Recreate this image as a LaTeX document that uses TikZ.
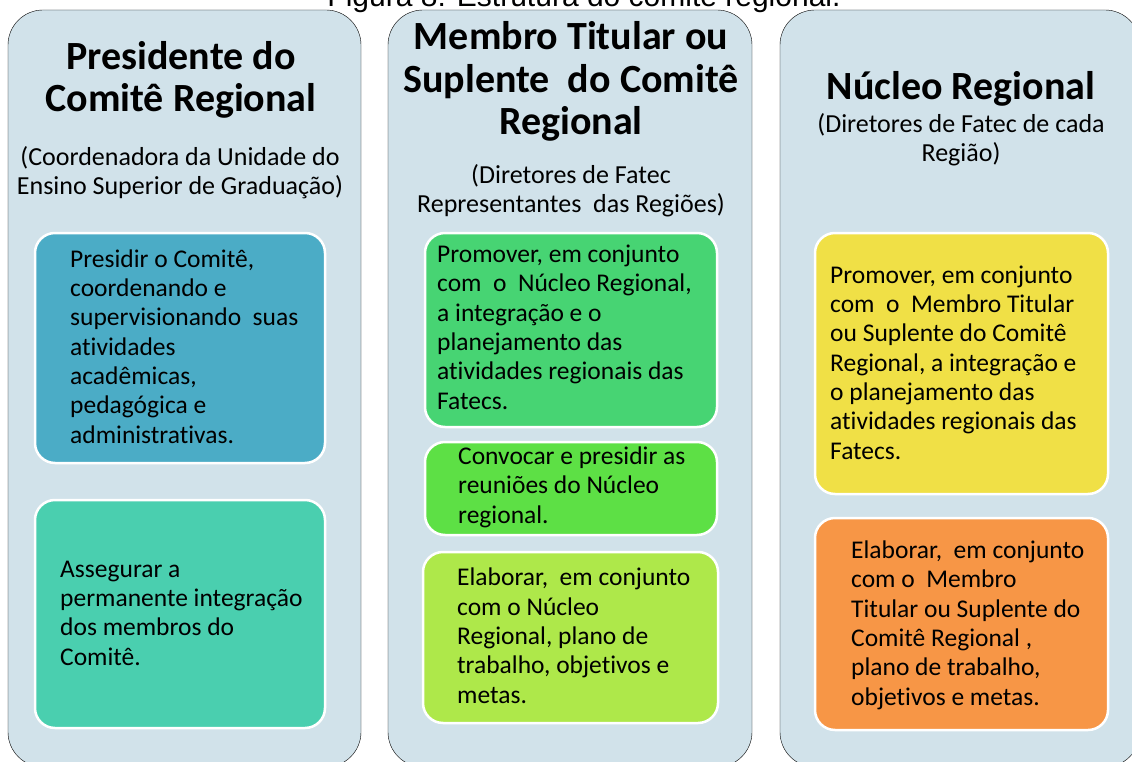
\documentclass[tikz,border=0pt]{standalone}
\usepackage{fontspec}
\setmainfont{Carlito}[Ligatures=NoCommon]
\newfontfamily\capfont{Liberation Sans}
\definecolor{colbg}{HTML}{D1E2EA}
\definecolor{presA}{HTML}{4BACC6}
\definecolor{presB}{HTML}{4ACFAF}
\definecolor{membA}{HTML}{47D473}
\definecolor{membB}{HTML}{5DE045}
\definecolor{membC}{HTML}{AEE84A}
\definecolor{nucA}{HTML}{F0E046}
\definecolor{nucB}{HTML}{F79646}
\tikzset{
  column/.style={fill=colbg, rounded corners=35pt},
  duty/.style={draw=white, line width=2.5pt, rounded corners=20pt},
  headtext/.style={font={\fontsize{40}{42.5}\selectfont\bfseries}, align=center, inner sep=0pt, anchor=base},
  subtext/.style={font={\fontsize{26}{29}\selectfont}, align=center, inner sep=0pt, anchor=base},
  dutytext/.style={font={\fontsize{25.5}{29.3}\selectfont}, align=left, inner sep=0pt, anchor=base west}
}
\begin{document}
\begin{tikzpicture}[x=1pt, y=-1pt]
    \useasboundingbox (0, 0) rectangle (1132, 762);
    \clip (0, 0) rectangle (1132, 762);
    \fill[white] (0, 0) rectangle (1132, 762);
    % caption, mostly cut off by the top edge
    \node[font={\capfont\fontsize{30}{30}\selectfont}, inner sep=0pt, anchor=base] (caption) at (584, 7) {Figura 8: Estrutura do comitê regional.};
    % the three columns
    \draw[column] (8, 10) rectangle (361, 767);
    \draw[column] (388, 10) rectangle (752, 767);
    \draw[column] (780, 10) rectangle (1140, 767);
    % presidente (text nodes sit on the base of their last line)
    \node[headtext] (presHead) at (181, 112) {Presidente do\\Comitê Regional};
    \node[subtext] (presSub) at (180, 195) {(Coordenadora da Unidade do\\Ensino Superior de Graduação)};
    \draw[duty, fill=presA] (35, 233) rectangle (325, 463);
    \draw[duty, fill=presB] (35, 500) rectangle (325, 728);
    \node[dutytext] (presDutyA) at (70, 443) {Presidir o Comitê,\\coordenando e\\supervisionando\ \ suas\\atividades\\acadêmicas,\\pedagógica e\\administrativas.};
    \node[dutytext] (presDutyB) at (60, 665) {Assegurar a\\permanente integração\\dos membros do\\Comitê.};
    % membro titular ou suplente
    \node[headtext] (membHead) at (571, 135) {Membro Titular ou\\Suplente\ \ do Comitê\\Regional};
    \node[subtext] (membSub) at (571, 213) {(Diretores de Fatec\\Representantes\ \ das Regiões)};
    \draw[duty, fill=membA] (425, 233) rectangle (717, 427);
    \draw[duty, fill=membB] (425, 442) rectangle (717, 535);
    \draw[duty, fill=membC] (423, 552) rectangle (718, 723);
    \node[dutytext] (membDutyA) at (437, 409) {Promover, em conjunto\\com\ \ o\ \ Núcleo Regional,\\a integração e o\\planejamento das\\atividades regionais das\\Fatecs.};
    \node[dutytext] (membDutyB) at (458, 523) {Convocar e presidir as\\reuniões do Núcleo\\regional.};
    \node[dutytext] (membDutyC) at (457, 703) {Elaborar,\ \ em conjunto\\com o Núcleo\\Regional, plano de\\trabalho, objetivos e\\metas.};
    % nucleo regional
    \node[headtext] (nucHead) at (961, 100) {Núcleo Regional};
    \node[subtext] (nucSub) at (961, 162) {(Diretores de Fatec de cada\\Região)};
    \draw[duty, fill=nucA] (815, 233) rectangle (1108, 494);
    \draw[duty, fill=nucB] (815, 518) rectangle (1108, 730);
    \node[dutytext] (nucDutyA) at (830, 459) {Promover, em conjunto\\com\ \ o\ \ Membro Titular\\ou Suplente do Comitê\\Regional, a integração e\\o planejamento das\\atividades regionais das\\Fatecs.};
    \node[dutytext] (nucDutyB) at (851, 705) {Elaborar,\ \ em conjunto\\com o\ \ Membro\\Titular ou Suplente do\\Comitê Regional ,\\plano de trabalho,\\objetivos e metas.};
\end{tikzpicture}
\end{document}
